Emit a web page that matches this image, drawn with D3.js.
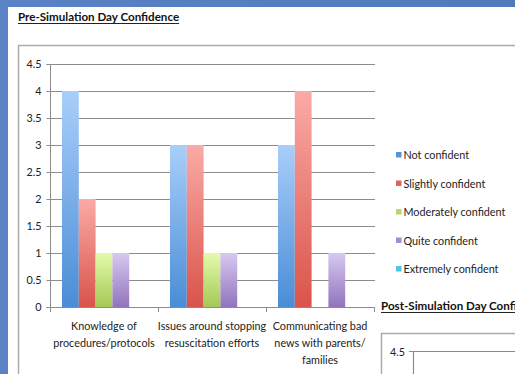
<!DOCTYPE html>
<html><head><meta charset="utf-8">
<script src="https://cdn.jsdelivr.net/npm/d3@7"></script>
<style>html,body{margin:0;padding:0;background:#fff;overflow:hidden}svg{display:block}</style>
</head><body>
<svg id="c" width="515" height="374"></svg>
<script>
const categories = ["Knowledge of procedures/protocols","Issues around stopping resuscitation efforts","Communicating bad news with parents/ families"];
const categoryLines = [["Knowledge of","procedures/protocols"],["Issues around stopping","resuscitation efforts"],["Communicating bad","news with parents/","families"]];
const seriesNames = ["Not confident","Slightly confident","Moderately confident","Quite confident","Extremely confident"];
const notConfident = [4,3,3];
const slightlyConfident = [2,3,4];
const moderatelyConfident = [1,1,0];
const quiteConfident = [1,1,1];
const extremelyConfident = [0,0,0];
const yTicks = [0,0.5,1,1.5,2,2.5,3,3.5,4,4.5];
const seriesValues = [notConfident, slightlyConfident, moderatelyConfident, quiteConfident, extremelyConfident];
const colTop = ["#a9cefa","#fbaaa6","#e3fbac","#d7c9f0","#9ee6f5"];
const colBot = ["#4a8dd6","#d9544a","#a5c956","#9174bd","#3fb8d6"];
const legendCol = ["#5b93d9","#e0635c","#b5d777","#a68ccf","#4cc5e0"];

const FONT = "Lato,'Open Sans',sans-serif";
const FS = 10.8;
const svg = d3.select("#c");
const defs = svg.append("defs");
seriesNames.forEach((s,i)=>{
  const g = defs.append("linearGradient").attr("id","g"+i).attr("x1",0).attr("y1",0).attr("x2",0).attr("y2",1);
  g.append("stop").attr("offset","0%").attr("stop-color",colTop[i]);
  g.append("stop").attr("offset","100%").attr("stop-color",colBot[i]);
});
const bg = defs.append("linearGradient").attr("id","bgb").attr("x1",0).attr("x2",1).attr("y1",0).attr("y2",0);
bg.append("stop").attr("offset","0%").attr("stop-color","#5a82c4");
bg.append("stop").attr("offset","100%").attr("stop-color","#4f7bbd");

svg.append("rect").attr("width",515).attr("height",374).attr("fill","#fff");
svg.append("rect").attr("x",0).attr("y",0).attr("width",515).attr("height",7).attr("fill","url(#bgb)");
svg.append("rect").attr("x",0).attr("y",0).attr("width",8).attr("height",374).attr("fill","#5a82c4");

// title
function uTitle(txt,x,y){
  const t = svg.append("text").attr("x",x).attr("y",y).attr("font-family",FONT)
    .attr("font-weight","bold").attr("font-size",11.6).attr("fill","#111").text(txt);
  const w = t.node().getComputedTextLength();
  svg.append("line").attr("x1",x).attr("x2",x+w).attr("y1",y+2.5).attr("y2",y+2.5).attr("stroke","#222").attr("stroke-width",1);
}
uTitle("Pre-Simulation Day Confidence",18,21);

// frame 1
svg.append("path").attr("d","M18.5,374 V45.5 H515").attr("fill","none").attr("stroke","#ababab").attr("stroke-width",1.5);

const x = d3.scaleBand().domain(categories).range([50,374]).padding(0);
const xs = d3.scaleBand().domain(seriesNames).range([0,x.bandwidth()]).paddingInner(0).paddingOuter(0.714);
const y = d3.scaleLinear().domain([0,4.5]).range([307,64]);

// gridlines
svg.append("g").selectAll("line").data(yTicks.filter(v=>v>0)).join("line")
  .attr("x1",50).attr("x2",375).attr("y1",d=>Math.round(y(d))+0.5).attr("y2",d=>Math.round(y(d))+0.5)
  .attr("stroke","#8c8c8c").attr("stroke-width",1.2);

// bars
const gb = svg.append("g");
seriesNames.forEach((s,i)=>{
  gb.selectAll(null).data(seriesValues[i].map((v,j)=>({v,c:categories[j]}))).join("rect")
    .attr("x",d=>x(d.c)+xs(s)).attr("width",xs.bandwidth())
    .attr("y",d=>y(d.v)).attr("height",d=>y(0)-y(d.v))
    .attr("fill","url(#g"+i+")");
});

// y axis
const ya = svg.append("g").attr("transform","translate(50.5,0)")
  .call(d3.axisLeft(y).tickValues(yTicks).tickSize(4).tickPadding(5).tickFormat(d=>d3.format("")(d)));
ya.select(".domain").attr("stroke","#8c8c8c").attr("d","M-4,"+(y(4.5)+0.5)+"H0V"+(y(0)+0.5)+"H-4");
ya.selectAll(".tick line").attr("stroke","#8c8c8c");
ya.selectAll(".tick text").attr("font-family",FONT).attr("font-size",FS).attr("fill","#222");

// x axis
const xa = svg.append("g").attr("transform","translate(0,307.5)")
  .call(d3.axisBottom(x).tickSize(0).tickFormat(""));
xa.select(".domain").attr("stroke","#8c8c8c").attr("d","M50,0H375");
svg.append("g").selectAll("line").data(categories.map(c=>x(c)).concat([x.range()[1]])).join("line")
  .attr("x1",d=>Math.round(d)+0.5).attr("x2",d=>Math.round(d)+0.5).attr("y1",307).attr("y2",312)
  .attr("stroke","#8c8c8c");
categories.forEach((c,j)=>{
  const t = svg.append("text").attr("font-family",FONT).attr("font-size",FS).attr("fill","#222").attr("text-anchor","middle");
  categoryLines[j].forEach((ln,k)=>{
    t.append("tspan").attr("x",x(c)+x.bandwidth()/2).attr("y",330+k*16.8).text(ln);
  });
});

// legend
const lg = svg.append("g");
seriesNames.forEach((s,i)=>{
  const yy = 155+i*28.5;
  lg.append("rect").attr("x",396).attr("y",yy-3).attr("width",5.5).attr("height",5.5).attr("fill",legendCol[i]);
  lg.append("text").attr("x",403.5).attr("y",yy+4).attr("font-family",FONT).attr("font-size",FS).attr("fill","#222").text(s);
});

// second chart (partially visible)
svg.append("rect").attr("x",378).attr("y",292).attr("width",137).attr("height",82).attr("fill","#fff");
uTitle("Post-Simulation Day Confidence",381,310);
svg.append("path").attr("d","M381.5,374 V333.5 H515").attr("fill","none").attr("stroke","#ababab").attr("stroke-width",1.5);
svg.append("text").attr("x",405).attr("y",356).attr("text-anchor","end").attr("font-family",FONT).attr("font-size",FS).attr("fill","#222").text("4.5");
svg.append("path").attr("d","M409,351.5H515M413.5,351.5V374").attr("fill","none").attr("stroke","#8c8c8c").attr("stroke-width",1.2);
</script>
</body></html>
